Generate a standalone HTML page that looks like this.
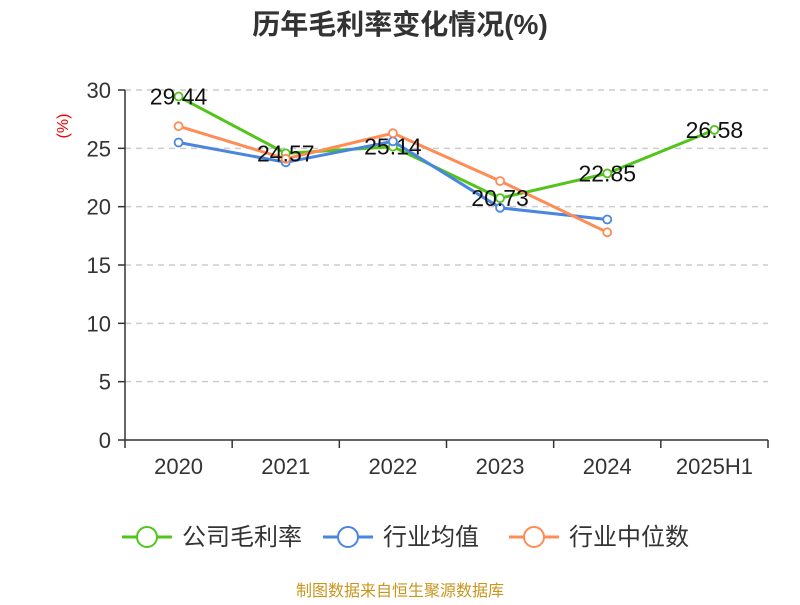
<!DOCTYPE html>
<html><head><meta charset="utf-8"><style>
body{margin:0;background:#fff;width:800px;height:600px;overflow:hidden;font-family:"Liberation Sans","Noto Sans CJK SC",sans-serif}
</style></head><body>
<svg id="c" width="800" height="600" xmlns="http://www.w3.org/2000/svg">
<text x="400" y="34" text-anchor="middle" font-size="28" font-weight="bold" fill="#333" font-family="Liberation Sans, Noto Sans CJK SC, sans-serif">历年毛利率变化情况(%)</text>
<text transform="translate(68,126) rotate(-90)" text-anchor="middle" font-size="16" fill="#e00">(%)</text>
<g id="grid"></g><g id="axes"></g><g id="series"></g><g id="labels"></g>
<g id="legend" font-size="24" fill="#333" font-family="Liberation Sans, Noto Sans CJK SC, sans-serif"></g>
<text x="400" y="596" text-anchor="middle" font-size="16" fill="#c8961e" font-family="Liberation Sans, Noto Sans CJK SC, sans-serif">制图数据来自恒生聚源数据库</text>
</svg>
<script>
const categories=["2020","2021","2022","2023","2024","2025H1"];
const companyValues=[29.44,24.57,25.14,20.73,22.85,26.58];
const industryAvg=[25.5,23.8,25.6,19.9,18.9,null];
const industryMedian=[26.9,24.1,26.3,22.2,17.8,null];
const yTicks=[0,5,10,15,20,25,30];
const NS="http://www.w3.org/2000/svg";
const L=125,R=768,T=90,B=440,yMax=30;
const bw=(R-L)/categories.length;
const xS=i=>L+bw*(i+0.5);
const yS=v=>B-(v/yMax)*(B-T);
function mk(tag,attrs,parent){const e=document.createElementNS(NS,tag);for(const k in attrs)e.setAttribute(k,attrs[k]);parent.appendChild(e);return e;}
const grid=document.getElementById('grid'),axes=document.getElementById('axes');
yTicks.forEach(t=>{const y=yS(t);
 if(t>0){const g=mk('line',{x1:L,x2:R,y1:y,y2:y,stroke:'#ccc','stroke-dasharray':'6,5','stroke-width':1.5},grid);
 
 }
 const tk=mk('line',{x1:L-7,x2:L,y1:y,y2:y,stroke:'#333','stroke-width':1.5},axes);
 
 
 const tx=mk('text',{x:L-14,y:y+8,'text-anchor':'end','font-size':22,fill:'#333'},axes);tx.textContent=t;
 
 
});
const ya=mk('line',{x1:L,x2:L,y1:T,y2:B,stroke:'#333','stroke-width':1.5},axes);


const xa=mk('line',{x1:L,x2:R,y1:B,y2:B,stroke:'#333','stroke-width':1.5},axes);


for(let i=0;i<=categories.length;i++){const x=L+bw*i;const t=mk('line',{x1:x,x2:x,y1:B,y2:B+8,stroke:'#333','stroke-width':1.5},axes);
 
 }
categories.forEach((c,i)=>{const t=mk('text',{x:xS(i),y:B+34,'text-anchor':'middle','font-size':22,fill:'#333'},axes);t.textContent=c;
 
 });
const ser=document.getElementById('series');
function drawSeries(vals,color,name){
 const g=mk('g',{},ser);
 
 
 let pts=[];vals.forEach((v,i)=>{if(v!=null)pts.push(xS(i)+','+yS(v));});
 mk('polyline',{points:pts.join(' '),fill:'none',stroke:color,'stroke-width':3,'stroke-linejoin':'round'},g);
 vals.forEach((v,i)=>{if(v==null)return;const p=mk('circle',{cx:xS(i),cy:yS(v),r:4,fill:'#fff',stroke:color,'stroke-width':1.8},g);
  
  });
}
drawSeries(companyValues,'#52c41a','company-margin-series');
drawSeries(industryAvg,'#4a86e0','industry-average-series');
drawSeries(industryMedian,'#ff8c55','industry-median-series');
const lab=document.getElementById('labels');
companyValues.forEach((v,i)=>{const t=mk('text',{x:xS(i),y:yS(v)+8,'text-anchor':'middle','font-size':23,fill:'#111'},lab);t.textContent=v.toFixed(2);
 
 });
const leg=document.getElementById('legend');
[["公司毛利率",'#52c41a',122],["行业均值",'#4a86e0',323],["行业中位数",'#ff8c55',509]].forEach(([n,c,x])=>{
 const g=mk('g',{},leg);
 
 
 mk('line',{x1:x,x2:x+50,y1:537,y2:537,stroke:c,'stroke-width':3},g);
 mk('circle',{cx:x+25,cy:537,r:10,fill:'#fff',stroke:c,'stroke-width':2},g);
 const t=mk('text',{x:x+60,y:545},g);t.textContent=n;
});
</script>
</body></html>
